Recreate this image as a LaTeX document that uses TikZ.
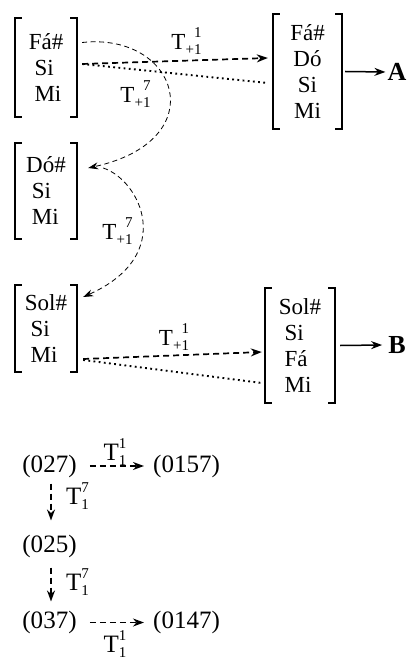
\documentclass[tikz,border=0pt]{standalone}
\usepackage{fontspec}
\setmainfont{Liberation Serif}
\usetikzlibrary{arrows.meta,calc}

\newcommand{\tlab}[2]{T\raisebox{-5pt}{\fontsize{15}{15}\selectfont #2}\llap{\raisebox{12pt}{\fontsize{15}{15}\selectfont #1}}}

\begin{document}
\begin{tikzpicture}[x=1pt,y=-1pt,
  chord/.style={inner sep=0pt,minimum width=62pt,align=left,font=\fontsize{23}{26}\selectfont},
  brk/.style={line width=1.8pt},
  tlabel/.style={inner sep=0pt,font=\fontsize{23}{26}\selectfont},
  pcset/.style={inner sep=0pt,font=\fontsize{25}{28}\selectfont},
  dasharrow/.style={line width=1.7pt,dash pattern=on 6pt off 4pt,-{Stealth[length=11pt,width=8pt]}},
  dotline/.style={line width=1.9pt,dash pattern=on 1.8pt off 3.4pt},
  curvearrow/.style={line width=0.8pt,dash pattern=on 5pt off 3.5pt,-{Stealth[length=10pt,width=7pt]}},
  solidarrow/.style={line width=1.5pt,-{Stealth[length=11pt,width=8pt]}}]
\useasboundingbox (0,0) rectangle (409,660);

% upper part: chords
\node[chord,minimum height=99pt] (fsm) at (46,67.5) {Fá\#\\\ Si\\\ Mi};
\node[chord,minimum height=115pt,minimum width=69pt,align=center] (fdsm) at (307.5,71.5) {Fá\#\\Dó\\Si\\Mi};
\node[chord,minimum height=96pt] (dsm) at (46,191) {Dó\#\\\ Si\\\ Mi};
\node[chord,minimum height=87pt] (ssm) at (46,328.5) {Sol\#\\\ Si\\\ Mi};
\node[chord,minimum height=115pt,minimum width=70pt] (ssfm) at (300,345.5) {Sol\#\\\ Si\\\ Fá\\\ Mi};
\foreach \n in {fsm,fdsm,dsm,ssm,ssfm}{
  \draw[brk] ([xshift=7pt]\n.north west) -- (\n.north west) -- (\n.south west) -- ++(7,0);
  \draw[brk] ([xshift=-7pt]\n.north east) -- (\n.north east) -- (\n.south east) -- ++(-7,0);
}
\node[font=\fontsize{26}{26}\selectfont\bfseries,inner sep=0pt] (labA) at (397,72) {A};
\node[font=\fontsize{26}{26}\selectfont\bfseries,inner sep=0pt] (labB) at (397,345) {B};

\draw[dasharrow] ([xshift=5pt,yshift=3.5pt]fsm.east) -- ([xshift=-5pt,yshift=13.5pt]fdsm.west);
\draw[dotline] ([xshift=5pt,yshift=3.5pt]fsm.east) -- ([xshift=-5pt,yshift=-11.5pt]fdsm.west);
\draw[curvearrow] ([xshift=5pt,yshift=25pt]fsm.east) .. controls (178,32) and (215,140) .. ([xshift=11pt,yshift=23pt]dsm.east);
\draw[curvearrow] ([xshift=26pt,yshift=23pt]dsm.east) .. controls (140,180) and (177,255) .. ([xshift=6pt,yshift=31.5pt]ssm.east);
\draw[dasharrow] ([xshift=6pt,yshift=-30.5pt]ssm.east) -- ([xshift=-3pt,yshift=-6.5pt]ssfm.west);
\draw[dotline] ([xshift=6pt,yshift=-31.5pt]ssm.east) -- ([xshift=-3pt,yshift=-37.5pt]ssfm.west);
\draw[solidarrow] ([xshift=3pt]fdsm.east) -- ([xshift=-2pt]labA.west);
\draw[solidarrow] ([xshift=5pt]ssfm.east) -- ([xshift=-6pt]labB.west);

\node[tlabel] (t1) at (186.5,41.5) {\tlab{1}{+1}};
\node[tlabel] (t2) at (135.5,94) {\tlab{7}{+1}};
\node[tlabel] (t3) at (117.5,231) {\tlab{7}{+1}};
\node[tlabel] (t4) at (174,337.5) {\tlab{1}{+1}};

% lower part: set classes
\node[pcset] (p027) at (49.5,466) {(027)};
\node[pcset] (p0157) at (186.5,466) {(0157)};
\node[pcset] (p025) at (49.5,546) {(025)};
\node[pcset] (p037) at (49.5,622.5) {(037)};
\node[pcset] (p0147) at (186.5,622.5) {(0147)};
\draw[dasharrow] ([xshift=13pt]p027.east) -- ([xshift=-9pt]p0157.west);
\draw[dasharrow] ([xshift=1.5pt,yshift=-6pt]p027.south) -- ([xshift=1.5pt,yshift=14pt]p025.north);
\draw[dasharrow] ([xshift=1.5pt,yshift=-10pt]p025.south) -- ([xshift=1.5pt,yshift=9.5pt]p037.north);
\draw[dasharrow] ([xshift=13pt]p037.east) -- ([xshift=-9pt]p0147.west);
\node[pcset] (t5) at (115,452) {\tlab{1}{1}};
\node[pcset] (t6) at (77.5,496.5) {\tlab{7}{1}};
\node[pcset] (t7) at (77.5,582.5) {\tlab{7}{1}};
\node[pcset] (t8) at (115,644) {\tlab{1}{1}};
\end{tikzpicture}
\end{document}
